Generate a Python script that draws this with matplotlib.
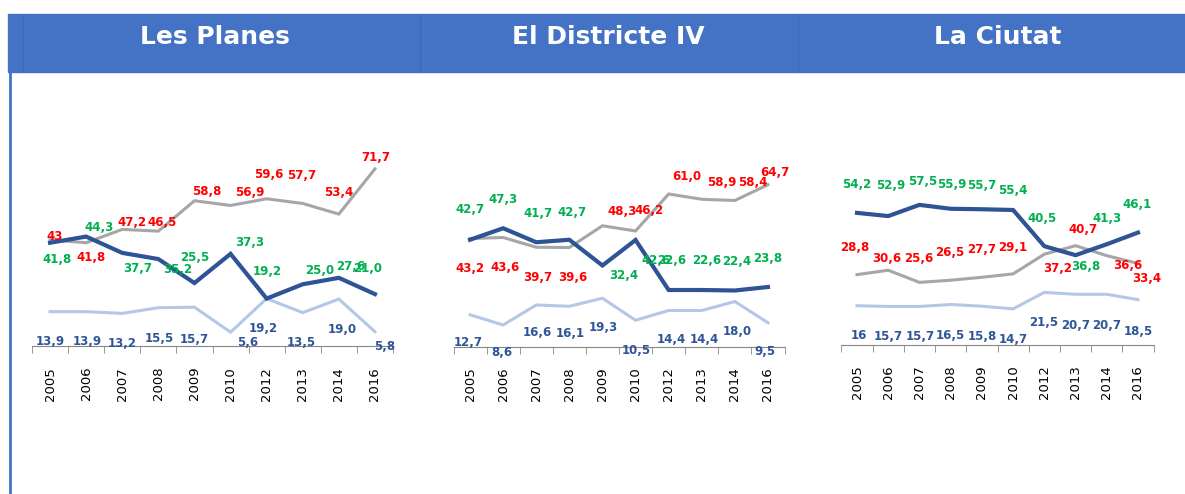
import matplotlib.pyplot as plt
import numpy as np
from matplotlib.patches import Rectangle
from matplotlib.lines import Line2D

years = ["2005", "2006", "2007", "2008", "2009", "2010", "2012", "2013", "2014", "2016"]
titles = ["Les Planes", "El Districte IV", "La Ciutat"]

# dark blue line (green labels), grey line (red labels), light blue line (blue labels)
planes_dark = [41.8, 44.3, 37.7, 35.2, 25.5, 37.3, 19.2, 25.0, 27.6, 21.0]
planes_grey = [43, 41.8, 47.2, 46.5, 58.8, 56.9, 59.6, 57.7, 53.4, 71.7]
planes_light = [13.9, 13.9, 13.2, 15.5, 15.7, 5.6, 19.2, 13.5, 19.0, 5.8]

districte_dark = [42.7, 47.3, 41.7, 42.7, 32.4, 42.6, 22.6, 22.6, 22.4, 23.8]
districte_grey = [43.2, 43.6, 39.7, 39.6, 48.3, 46.2, 61.0, 58.9, 58.4, 64.7]
districte_light = [12.7, 8.6, 16.6, 16.1, 19.3, 10.5, 14.4, 14.4, 18.0, 9.5]

ciutat_dark = [54.2, 52.9, 57.5, 55.9, 55.7, 55.4, 40.5, 36.8, 41.3, 46.1]
ciutat_grey = [28.8, 30.6, 25.6, 26.5, 27.7, 29.1, 37.2, 40.7, 36.6, 33.4]
ciutat_light = [16, 15.7, 15.7, 16.5, 15.8, 14.7, 21.5, 20.7, 20.7, 18.5]

# label offsets in pixels (dx, dy up), one list per series, same order as above
planes_off = [
    [(7, -17), (13, 9), (15, -16), (19, -10), (0, 26), (19, 11), (1, 27), (17, 14), (12, 11), (-7, 26)],
    [(5, 3), (5, -15), (10, 7), (4, 9), (12, 9), (19, 13), (2, 24), (-1, 28), (0, 22), (1, 11)],
    [(0, -30), (1, -30), (0, -30), (1, -31), (0, -32), (17, -10), (-3, -30), (-2, -30), (3, -30), (10, -15)],
]
districte_off = [
    [(0, 30), (0, 29), (2, 29), (3, 27), (21, -10), (21, -20), (3, 30), (5, 30), (2, 29), (0, 29)],
    [(0, -30), (2, -30), (2, -30), (3, -30), (20, 14), (14, 21), (18, 18), (20, 17), (18, 18), (7, 12)],
    [(-2, -28), (-1, -28), (1, -28), (1, -27), (1, -29), (1, -30), (3, -29), (3, -29), (2, -30), (-3, -29)],
]
ciutat_off = [
    [(0, 28), (2, 31), (3, 23), (1, 24), (0, 24), (0, 19), (-2, 28), (10, -11), (0, 26), (-1, 28)],
    [(-2, 27), (-1, 12), (-1, 24), (-1, 28), (0, 28), (0, 26), (13, -14), (7, 16), (21, -10), (9, -15)],
    [(2, -30), (0, -30), (1, -30), (0, -31), (0, -30), (0, -31), (-1, -30), (0, -31), (0, -31), (0, -32)],
]

panels = [
    (planes_dark, planes_grey, planes_light, planes_off),
    (districte_dark, districte_grey, districte_light, districte_off),
    (ciutat_dark, ciutat_grey, ciutat_light, ciutat_off),
]

W, H = 1185, 494
# left px, right px, y of zero px, px per unit
boxes = [(32, 393, 346, 2.47), (453.5, 784.5, 346.5, 2.5), (841.4, 1153.6, 344.6, 2.43)]
title_x = [215, 608, 998]

line_colors = ["#2E5496", "#A6A6A6", "#B4C7E7"]
line_widths = [3.0, 2.2, 2.2]
label_colors = ["#00B050", "#FF0000", "#2F5597"]
zorders = [4, 3, 2]


def fmt(v):
    if isinstance(v, int):
        return str(v)
    return f"{v:.1f}".replace(".", ",")


fig = plt.figure(figsize=(W / 100, H / 100), dpi=100)

# header band
fig.patches.append(Rectangle((8 / W, 1 - 72 / H), (W - 8) / W, 58 / H,
                             transform=fig.transFigure, color="#4472C4", zorder=0))
for xd in [23, 420, 798]:
    fig.lines.append(Line2D([xd / W, xd / W], [1 - 72 / H, 1 - 15 / H],
                            transform=fig.transFigure, color="#3E69B8", lw=0.8))
fig.lines.append(Line2D([9.5 / W, 9.5 / W], [0, 1 - 72 / H],
                        transform=fig.transFigure, color="#4472C4", lw=2))

for (dark, grey, light, offs), (l, r, z0, sc), tx, title in zip(panels, boxes, title_x, titles):
    ax = fig.add_axes([l / W, (H - z0) / H, (r - l) / W, 80 * sc / H])
    x = np.arange(len(years))
    for k, series in enumerate([dark, grey, light]):
        ax.plot(x, series, color=line_colors[k], lw=line_widths[k], zorder=zorders[k],
                solid_joinstyle="miter")
        for i, v in enumerate(series):
            dx, dy = offs[k][i]
            ax.annotate(fmt(v), (i, v), xytext=(dx, dy), textcoords="offset pixels",
                        ha="center", va="center", color=label_colors[k],
                        fontsize=8.5, fontweight="bold", zorder=5 + k)
    ax.set_xlim(-0.5, len(years) - 0.5)
    ax.set_ylim(0, 80)
    for s in ["top", "right", "left"]:
        ax.spines[s].set_visible(False)
    ax.spines["bottom"].set_color("#868686")
    ax.set_yticks([])
    ax.set_xticks(x)
    ax.set_xticklabels(years, rotation=90, fontsize=9.5)
    ax.tick_params(axis="x", which="major", length=0, pad=15)
    ax.set_xticks(np.arange(-0.5, len(years), 1), minor=True)
    ax.tick_params(axis="x", which="minor", length=5, color="#868686")
    ax.patch.set_alpha(0)
    fig.text(tx / W, 1 - 37 / H, title, ha="center", va="center", color="white",
             fontsize=18, fontweight="bold")

fig.savefig("out.png", dpi=100)
